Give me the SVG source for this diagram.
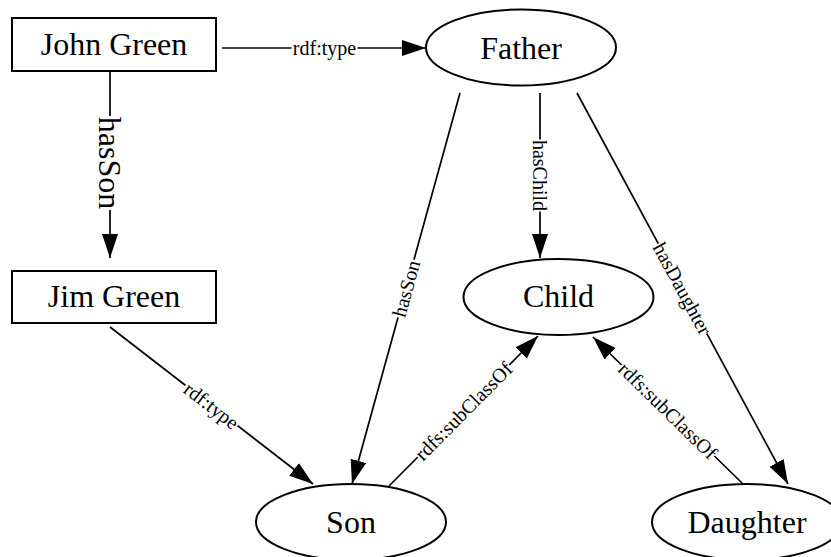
<svg xmlns="http://www.w3.org/2000/svg" width="831" height="557" viewBox="0 0 831 557">
  <defs>
    <marker id="arrow" markerUnits="userSpaceOnUse" markerWidth="26" markerHeight="18" refX="24" refY="8" orient="auto">
      <path d="M0,0 L24,8 L0,16 Z" fill="#000"/>
    </marker>
  </defs>
  <style>
    .node-shape { fill: #fff; stroke: #000; stroke-width: 2; }
    .node-text { font-family: "Liberation Serif", "Times New Roman", serif; font-size: 32px; text-anchor: middle; fill: #000; }
    .edge { fill: none; stroke: #000; stroke-width: 1.7; marker-end: url(#arrow); }
    .label-bg { fill: #fff; }
    .label { font-family: "Liberation Serif", "Times New Roman", serif; font-size: 20px; text-anchor: middle; fill: #000; }
    .label-big { font-size: 32px; }
  </style>
  <rect width="831" height="557" fill="#fff"/>

  <!-- connectors -->
  <g id="edges">
    <line class="edge" x1="222" y1="48" x2="426" y2="48"/>
    <line class="edge" x1="110" y1="71" x2="110" y2="258"/>
    <line class="edge" x1="110" y1="327" x2="313" y2="484"/>
    <line class="edge" x1="460" y1="93" x2="352" y2="484"/>
    <line class="edge" x1="540" y1="93" x2="540" y2="258"/>
    <line class="edge" x1="577" y1="93" x2="788" y2="484"/>
    <line class="edge" x1="389" y1="486" x2="538" y2="336"/>
    <line class="edge" x1="743" y1="484" x2="593" y2="337"/>

    <!-- edge labels, each with a white strip that breaks the line -->
    <g transform="translate(324.5,48)">
      <rect class="label-bg" x="-33" y="-4" width="66" height="8"/>
      <text class="label" y="7">rdf:type</text>
    </g>
    <g transform="translate(110,163) rotate(90)">
      <rect class="label-bg" x="-47" y="-4" width="94" height="8"/>
      <text class="label label-big" y="11">hasSon</text>
    </g>
    <g transform="translate(211.5,405.5) rotate(37.72)">
      <rect class="label-bg" x="-33" y="-4" width="66" height="8"/>
      <text class="label" y="7">rdf:type</text>
    </g>
    <g transform="translate(406,288.5) rotate(-74.56)">
      <rect class="label-bg" x="-30" y="-4" width="60" height="8"/>
      <text class="label" y="7">hasSon</text>
    </g>
    <g transform="translate(540,175.5) rotate(90)">
      <rect class="label-bg" x="-36" y="-4" width="72" height="8"/>
      <text class="label" y="7">hasChild</text>
    </g>
    <g transform="translate(682.5,288.5) rotate(61.65)">
      <rect class="label-bg" x="-51" y="-4" width="102" height="8"/>
      <text class="label" y="7">hasDaughter</text>
    </g>
    <g transform="translate(463.5,411) rotate(-45.19)">
      <rect class="label-bg" x="-65" y="-4" width="130" height="8"/>
      <text class="label" y="7">rdfs:subClassOf</text>
    </g>
    <g transform="translate(668,410.5) rotate(44.42)">
      <rect class="label-bg" x="-65" y="-4" width="130" height="8"/>
      <text class="label" y="7">rdfs:subClassOf</text>
    </g>
  </g>

  <!-- nodes -->
  <g id="john-green">
    <rect class="node-shape" x="12" y="18" width="204" height="53"/>
    <text class="node-text" x="114" y="55">John Green</text>
  </g>
  <g id="jim-green">
    <rect class="node-shape" x="12" y="271" width="204" height="52"/>
    <text class="node-text" x="114" y="307">Jim Green</text>
  </g>
  <g id="father">
    <ellipse class="node-shape" cx="521" cy="47.5" rx="95" ry="38"/>
    <text class="node-text" x="521" y="59">Father</text>
  </g>
  <g id="child">
    <ellipse class="node-shape" cx="558.5" cy="297" rx="95" ry="38"/>
    <text class="node-text" x="558.5" y="307">Child</text>
  </g>
  <g id="son">
    <ellipse class="node-shape" cx="351" cy="522" rx="95" ry="38"/>
    <text class="node-text" x="351" y="533">Son</text>
  </g>
  <g id="daughter">
    <ellipse class="node-shape" cx="747" cy="522" rx="95" ry="38"/>
    <text class="node-text" x="747" y="533">Daughter</text>
  </g>
</svg>
